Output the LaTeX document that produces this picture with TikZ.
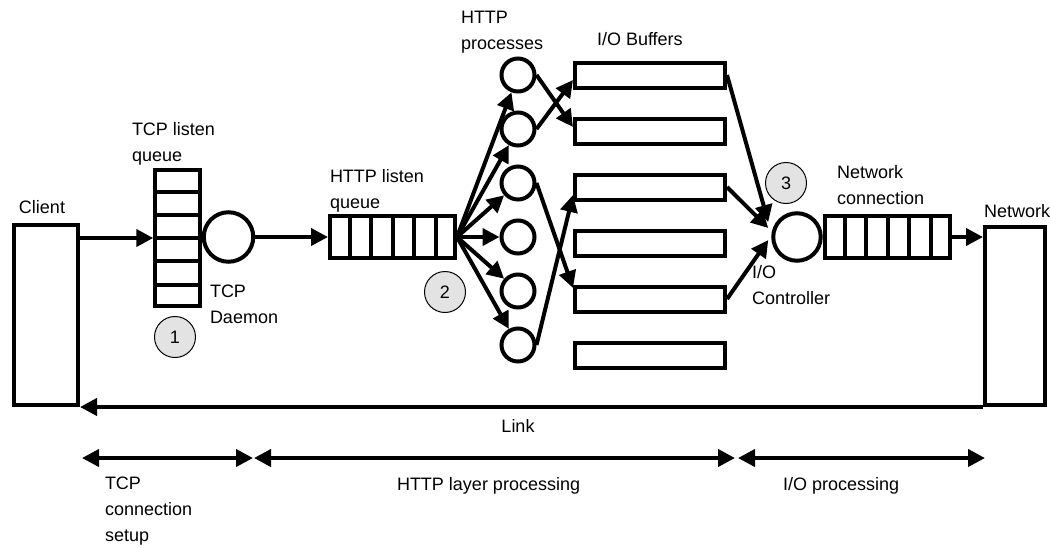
\documentclass[tikz,border=0pt]{standalone}
\usepackage{fontspec}
\setmainfont{Liberation Sans}
\usetikzlibrary{arrows.meta,calc}

\begin{document}
\begin{tikzpicture}[x=1pt,y=-1pt,
  font=\fontsize{18pt}{26pt}\selectfont,
  every node/.style={inner sep=0pt, outer sep=0pt},
  wire/.style={line width=4pt},
  tip/.tip={Triangle[length=17pt,width=17pt]},
  arr/.style={wire,-tip},
  span/.style={wire,tip-tip},
  box/.style={draw, rectangle, line width=4pt, outer sep=2pt},
  ring/.style={draw, circle, line width=4pt, outer sep=2pt},
  proc/.style={ring, minimum size=33pt},
  buffer/.style={box, minimum width=150pt, minimum height=25pt},
  badge/.style={draw, circle, line width=1pt, fill=black!11, minimum size=41pt},
  label/.style={anchor=north west, align=left},
  word/.style={anchor=base west},
]
\useasboundingbox (0,0) rectangle (1050,547);
\fill[white] (0,0) rectangle (1050,547);

% end hosts
\node[box, minimum width=64pt, minimum height=180pt] (client) at (46,315) {};
\node[box, minimum width=60pt, minimum height=178pt] (net) at (1015,316) {};

% TCP listen queue and daemon
\node[box, minimum width=44.5pt, minimum height=135.5pt] (tq) at (177.5,238) {};
\foreach \k in {1,...,5}
  \draw[wire] ($(tq.north west)!\k/6!(tq.south west)$) -- ($(tq.north east)!\k/6!(tq.south east)$);
\node[ring, minimum size=49.5pt] (td) at (228.5,237) {};

% HTTP listen queue
\node[box, minimum width=125pt, minimum height=41.5pt] (hq) at (392.5,237) {};
\foreach \k in {1,...,5}
  \draw[wire] ($(hq.north west)!\k/6!(hq.north east)$) -- ($(hq.south west)!\k/6!(hq.south east)$);

% HTTP processes
\foreach \k [count=\i] in {0,...,5}
  \node[proc] (p\i) at (518,75+54*\k) {};

% I/O buffers
\foreach \k [count=\i] in {0,...,5}
  \node[buffer] (b\i) at (650,75+56*\k) {};

% I/O controller and network connection queue
\node[ring, minimum size=47.5pt] (io) at (797,237) {};
\node[box, minimum width=125pt, minimum height=41.5pt] (nq) at (887.5,237) {};
\foreach \k in {1,...,5}
  \draw[wire] ($(nq.north west)!\k/6!(nq.north east)$) -- ($(nq.south west)!\k/6!(nq.south east)$);

% numbered markers
\node[badge] (c1) at (175,337) {1};
\node[badge] (c2) at (445,292) {2};
\node[badge] (c3) at (786,183) {3};

% request path
\draw[arr] (client.east |- tq.west) -- (tq.west);
\draw[arr] (td.east) -- (hq.west);
\foreach \i in {1,...,6}
  \draw[arr] (hq.east) -- (p\i);

% processes to buffers
\draw[arr] (p1.east) -- ($(b2.west)+(0,-4)$);
\draw[arr] (p2.east) -- ($(b1.west)+(0,5)$);
\draw[arr] (p3.east) -- ($(b5.west)+(0,-11)$);
\draw[arr] (p6.east) -- ($(b3.west)+(0,8)$);

% buffers to I/O controller
\draw[arr] (b1.east) -- ($(io.west)+(-3,-15)$);
\draw[arr] (b3.east) -- ($(io.west)+(-3,-9)$);
\draw[arr] (b5.east) -- ($(io.west)+(-3,3)$);

% out to the network and back over the link
\draw[arr] (nq.east) -- (nq.east -| net.west);
\draw[arr] (net.south west) -- (client.south east);

% processing phases
\coordinate (s1l) at (82,458);
\coordinate (s1r) at (253,458);
\coordinate (s2l) at (254,458);
\coordinate (s2r) at (735,458);
\coordinate (s3l) at (738,458);
\coordinate (s3r) at (985,458);
\draw[span] (s1l) -- (s1r);
\draw[span] (s2l) -- (s2r);
\draw[span] (s3l) -- (s3r);

% labels
\node[word] (lclient) at (19,213) {Client};
\node[label] (ltq) at (132,122) {TCP listen\\queue};
\node[label] (ltd) at (210,285) {TCP\\Daemon};
\node[label] (lhq) at (330,169) {HTTP listen\\queue};
\node[label] (lproc) at (461,11) {HTTP\\processes};
\node[word] (lbuf) at (597,45) {I/O Buffers};
\node[label] (lnq) at (837,165) {Network\\connection};
\node[word] (lnet) at (984,217) {Network};
\node[label] (lio) at (752,265) {I/O\\Controller};
\node[anchor=base] (llink) at (518,432) {Link};
\node[label] (ltcp) at (105,477) {TCP\\connection\\setup};
\node[word] (lhttp) at (397,490) {HTTP layer processing};
\node[word] (lioproc) at (783,490) {I/O processing};
\end{tikzpicture}
\end{document}
